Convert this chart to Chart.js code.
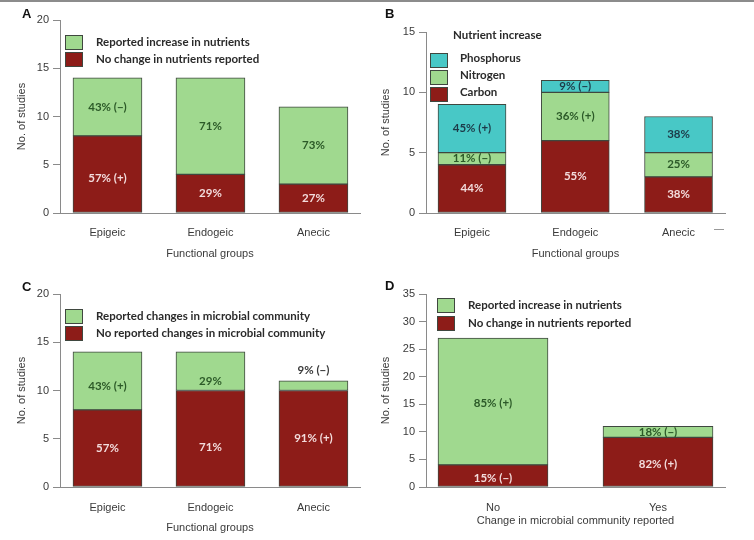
<!DOCTYPE html>
<html>
<head>
<meta charset="utf-8">
<script src="https://cdn.jsdelivr.net/npm/chart.js@4.4.0/dist/chart.umd.min.js"></script>
<style>
  html, body { margin: 0; padding: 0; background: #fff; }
  body { width: 754px; height: 540px; position: relative; overflow: hidden; }
  .topline { position: absolute; left: 0; top: 0; width: 754px; height: 2px; background: #8c8c8c; }
  .panel { position: absolute; width: 377px; height: 270px; }
  .tag { position: absolute; font: bold 13px "Liberation Sans", Arial, sans-serif; color: #111; line-height: 14px; }
  .dash { position: absolute; left: 714px; top: 229px; width: 10px; height: 1px; background: #999; }
</style>
</head>
<body>
<div class="topline"></div>
<canvas id="chartA" class="panel" width="377" height="270" style="left:0;top:0"></canvas>
<canvas id="chartB" class="panel" width="377" height="270" style="left:377px;top:0"></canvas>
<canvas id="chartC" class="panel" width="377" height="270" style="left:0;top:270px"></canvas>
<canvas id="chartD" class="panel" width="377" height="270" style="left:377px;top:270px"></canvas>
<div class="tag" style="left:22px;top:7px">A</div>
<div class="tag" style="left:385px;top:7px">B</div>
<div class="tag" style="left:22px;top:280px">C</div>
<div class="tag" style="left:385px;top:279px">D</div>
<div class="dash"></div>
<script>
// categories
const groups = ['Epigeic', 'Endogeic', 'Anecic'];
const microbeReported = ['No', 'Yes'];

// A - nutrients by functional group (no. of studies)
const aNoChange = [8, 4, 3];
const aIncrease = [6, 10, 8];
const aNoChangeLabels = ['57% (+)', '29%', '27%'];
const aIncreaseLabels = ['43% (−)', '71%', '73%'];

// B - which nutrient increased
const bCarbon = [4, 6, 3];
const bNitrogen = [1, 4, 2];
const bPhosphorus = [4, 1, 3];
const bCarbonLabels = ['44%', '55%', '38%'];
const bNitrogenLabels = ['11% (−)', '36% (+)', '25%'];
const bPhosphorusLabels = ['45% (+)', '9% (−)', '38%'];

// C - microbial community changes
const cNoChange = [8, 10, 10];
const cChange = [6, 4, 1];
const cNoChangeLabels = ['57%', '71%', '91% (+)'];
const cChangeLabels = ['43% (+)', '29%', '9% (−)'];

// D - nutrients vs microbial change
const dNoChange = [4, 9];
const dIncrease = [23, 2];
const dNoChangeLabels = ['15% (−)', '82% (+)'];
const dIncreaseLabels = ['85% (+)', '18% (−)'];

// y axis tops (ticks every 5)
const yMaxA = 20, yMaxB = 15, yMaxC = 20, yMaxD = 35;

const GREEN = '#a0d98f';
const RED = '#8d1c18';
const CYAN = '#48c8c6';
const EDGE = '#3f473f';
const AXIS = '#8a8a8a';
const TXT = '#3a3a3a';
const SANS = '"Liberation Sans", Arial, sans-serif';
const BOLD = 'Lato, "Open Sans", sans-serif';

// text inside the bar segments
const segLabels = {
    id: 'segLabels',
    afterDatasetsDraw(chart) {
        const ctx = chart.ctx;
        ctx.save();
        ctx.font = 'bold 11.5px ' + BOLD;
        ctx.textAlign = 'center';
        ctx.textBaseline = 'middle';
        chart.data.datasets.forEach((ds, di) => {
            const meta = chart.getDatasetMeta(di);
            meta.data.forEach((bar, i) => {
                const t = ds.segLabels && ds.segLabels[i];
                if (!t) return;
                const dy = (ds.labelDy && ds.labelDy[i]) || 0;
                ctx.fillStyle = Array.isArray(ds.labelColor) ? ds.labelColor[i] : ds.labelColor;
                ctx.fillText(t, bar.x, (bar.y + bar.base) / 2 + dy);
            });
        });
        ctx.restore();
    }
};

// legend drawn inside the plot, boxes stacked like the figure
const boxLegend = {
    id: 'boxLegend',
    afterDraw(chart, args, o) {
        if (!o || !o.order) return;
        const ctx = chart.ctx;
        ctx.save();
        ctx.font = 'bold 11.5px ' + BOLD;
        ctx.textBaseline = 'middle';
        ctx.textAlign = 'left';
        if (o.title) {
            ctx.fillStyle = '#2a2a2a';
            ctx.fillText(o.title, o.titleX, o.titleY);
        }
        o.order.forEach((di, k) => {
            const ds = chart.data.datasets[di];
            const y = o.y + k * o.pitch;
            ctx.fillStyle = ds.backgroundColor;
            ctx.fillRect(o.x, y, o.boxW, o.boxH);
            ctx.strokeStyle = EDGE;
            ctx.lineWidth = 1;
            ctx.strokeRect(o.x + 0.5, y + 0.5, o.boxW - 1, o.boxH - 1);
            ctx.fillStyle = '#2a2a2a';
            ctx.fillText(ds.label, o.textX, y + o.boxH / 2 + (o.textDy || 0));
        });
        ctx.restore();
    }
};

Chart.register(segLabels, boxLegend);

function makeChart(id, cfg) {
    return new Chart(document.getElementById(id), {
        type: 'bar',
        data: {
            datasets: cfg.datasets.map(d => ({
                label: d.label,
                data: d.values.map((v, i) => ({ x: i, y: v })),
                backgroundColor: d.color,
                borderColor: EDGE,
                borderWidth: 1,
                borderSkipped: false,
                barThickness: cfg.barWidth,
                segLabels: d.labels,
                labelColor: d.labelColor,
                labelDy: d.labelDy || []
            }))
        },
        options: {
            responsive: false,
            animation: false,
            events: [],
            layout: { padding: { top: cfg.padTop, right: cfg.padRight, left: 0, bottom: 0 } },
            plugins: {
                legend: { display: false },
                tooltip: { enabled: false },
                boxLegend: cfg.legend
            },
            scales: {
                x: {
                    type: 'linear',
                    min: cfg.xMin,
                    max: cfg.xMax,
                    offset: false,
                    bounds: 'data',
                    stacked: true,
                    afterBuildTicks: s => { s.ticks = cfg.categories.map((c, i) => ({ value: i })); },
                    afterFit: s => { s.height = cfg.xHeight; },
                    grid: { display: false, drawTicks: false },
                    border: { display: true, color: AXIS, width: 1 },
                    ticks: {
                        padding: cfg.xTickPad,
                        color: TXT,
                        font: { family: SANS, size: 11 },
                        maxRotation: 0,
                        autoSkip: false,
                        callback: v => cfg.categories[v]
                    },
                    title: {
                        display: true,
                        text: cfg.xTitle,
                        color: TXT,
                        font: { family: SANS, size: 11 },
                        padding: { top: 0, bottom: cfg.xTitlePad }
                    }
                },
                y: {
                    stacked: true,
                    min: 0,
                    max: cfg.yMax,
                    afterFit: s => { s.width = cfg.yWidth; },
                    grid: { drawOnChartArea: false, tickLength: 7, color: AXIS },
                    border: { color: AXIS, width: 1 },
                    ticks: { stepSize: 5, padding: 4, color: TXT, font: { family: SANS, size: 11 } },
                    title: {
                        display: true,
                        text: 'No. of studies',
                        color: TXT,
                        font: { family: SANS, size: 11 },
                        padding: { top: cfg.yTitlePad, bottom: 0 }
                    }
                }
            }
        }
    });
}

makeChart('chartA', {
    categories: groups, yMax: yMaxA, xTitle: 'Functional groups',
    xMin: -0.461, xMax: 2.452, barWidth: 69,
    yWidth: 60, padTop: 20, padRight: 17, xHeight: 57,
    xTickPad: 13, xTitlePad: 9, yTitlePad: 15,
    datasets: [
        { label: 'No change in nutrients reported', values: aNoChange, color: RED,
          labels: aNoChangeLabels, labelColor: '#f3dcdc', labelDy: [4, 0, 0] },
        { label: 'Reported increase in nutrients', values: aIncrease, color: GREEN,
          labels: aIncreaseLabels, labelColor: '#2c5a28' }
    ],
    legend: { order: [1, 0], x: 65, y: 35, boxW: 18, boxH: 15, pitch: 17, textX: 96 }
});

makeChart('chartB', {
    categories: groups, yMax: yMaxB, xTitle: 'Functional groups',
    xMin: -0.4455, xMax: 2.45, barWidth: 68,
    yWidth: 49, padTop: 32, padRight: 29, xHeight: 57,
    xTickPad: 13, xTitlePad: 9, yTitlePad: 2,
    datasets: [
        { label: 'Carbon', values: bCarbon, color: RED,
          labels: bCarbonLabels, labelColor: '#f3dcdc' },
        { label: 'Nitrogen', values: bNitrogen, color: GREEN,
          labels: bNitrogenLabels, labelColor: '#2c5a28' },
        { label: 'Phosphorus', values: bPhosphorus, color: CYAN,
          labels: bPhosphorusLabels, labelColor: '#1d3a48' }
    ],
    legend: { order: [2, 1, 0], x: 53, y: 53, boxW: 18, boxH: 15, pitch: 17, textX: 83, textDy: -2,
              title: 'Nutrient increase', titleX: 76, titleY: 35 }
});

makeChart('chartC', {
    categories: groups, yMax: yMaxC, xTitle: 'Functional groups',
    xMin: -0.461, xMax: 2.452, barWidth: 69,
    yWidth: 60, padTop: 24, padRight: 17, xHeight: 53,
    xTickPad: 14, xTitlePad: 5, yTitlePad: 15,
    datasets: [
        { label: 'No reported changes in microbial community', values: cNoChange, color: RED,
          labels: cNoChangeLabels, labelColor: '#f3dcdc', labelDy: [0, 9, 0] },
        { label: 'Reported changes in microbial community', values: cChange, color: GREEN,
          labels: cChangeLabels, labelColor: ['#2c5a28', '#2c5a28', '#3a3a3a'], labelDy: [5, 10, -15] }
    ],
    legend: { order: [1, 0], x: 65, y: 39, boxW: 18, boxH: 15, pitch: 17, textX: 96 }
});

makeChart('chartD', {
    categories: microbeReported, yMax: yMaxD, xTitle: 'Change in microbial community reported',
    xMin: -0.406, xMax: 1.406, barWidth: 110,
    yWidth: 49, padTop: 24, padRight: 29, xHeight: 53,
    xTickPad: 14, xTitlePad: 12, yTitlePad: 2,
    datasets: [
        { label: 'No change in nutrients reported', values: dNoChange, color: RED,
          labels: dNoChangeLabels, labelColor: '#f3dcdc', labelDy: [3, 2] },
        { label: 'Reported increase in nutrients', values: dIncrease, color: GREEN,
          labels: dIncreaseLabels, labelColor: '#2c5a28', labelDy: [2, 0] }
    ],
    legend: { order: [1, 0], x: 60, y: 28, boxW: 18, boxH: 15, pitch: 18, textX: 91 }
});
</script>
</body>
</html>
